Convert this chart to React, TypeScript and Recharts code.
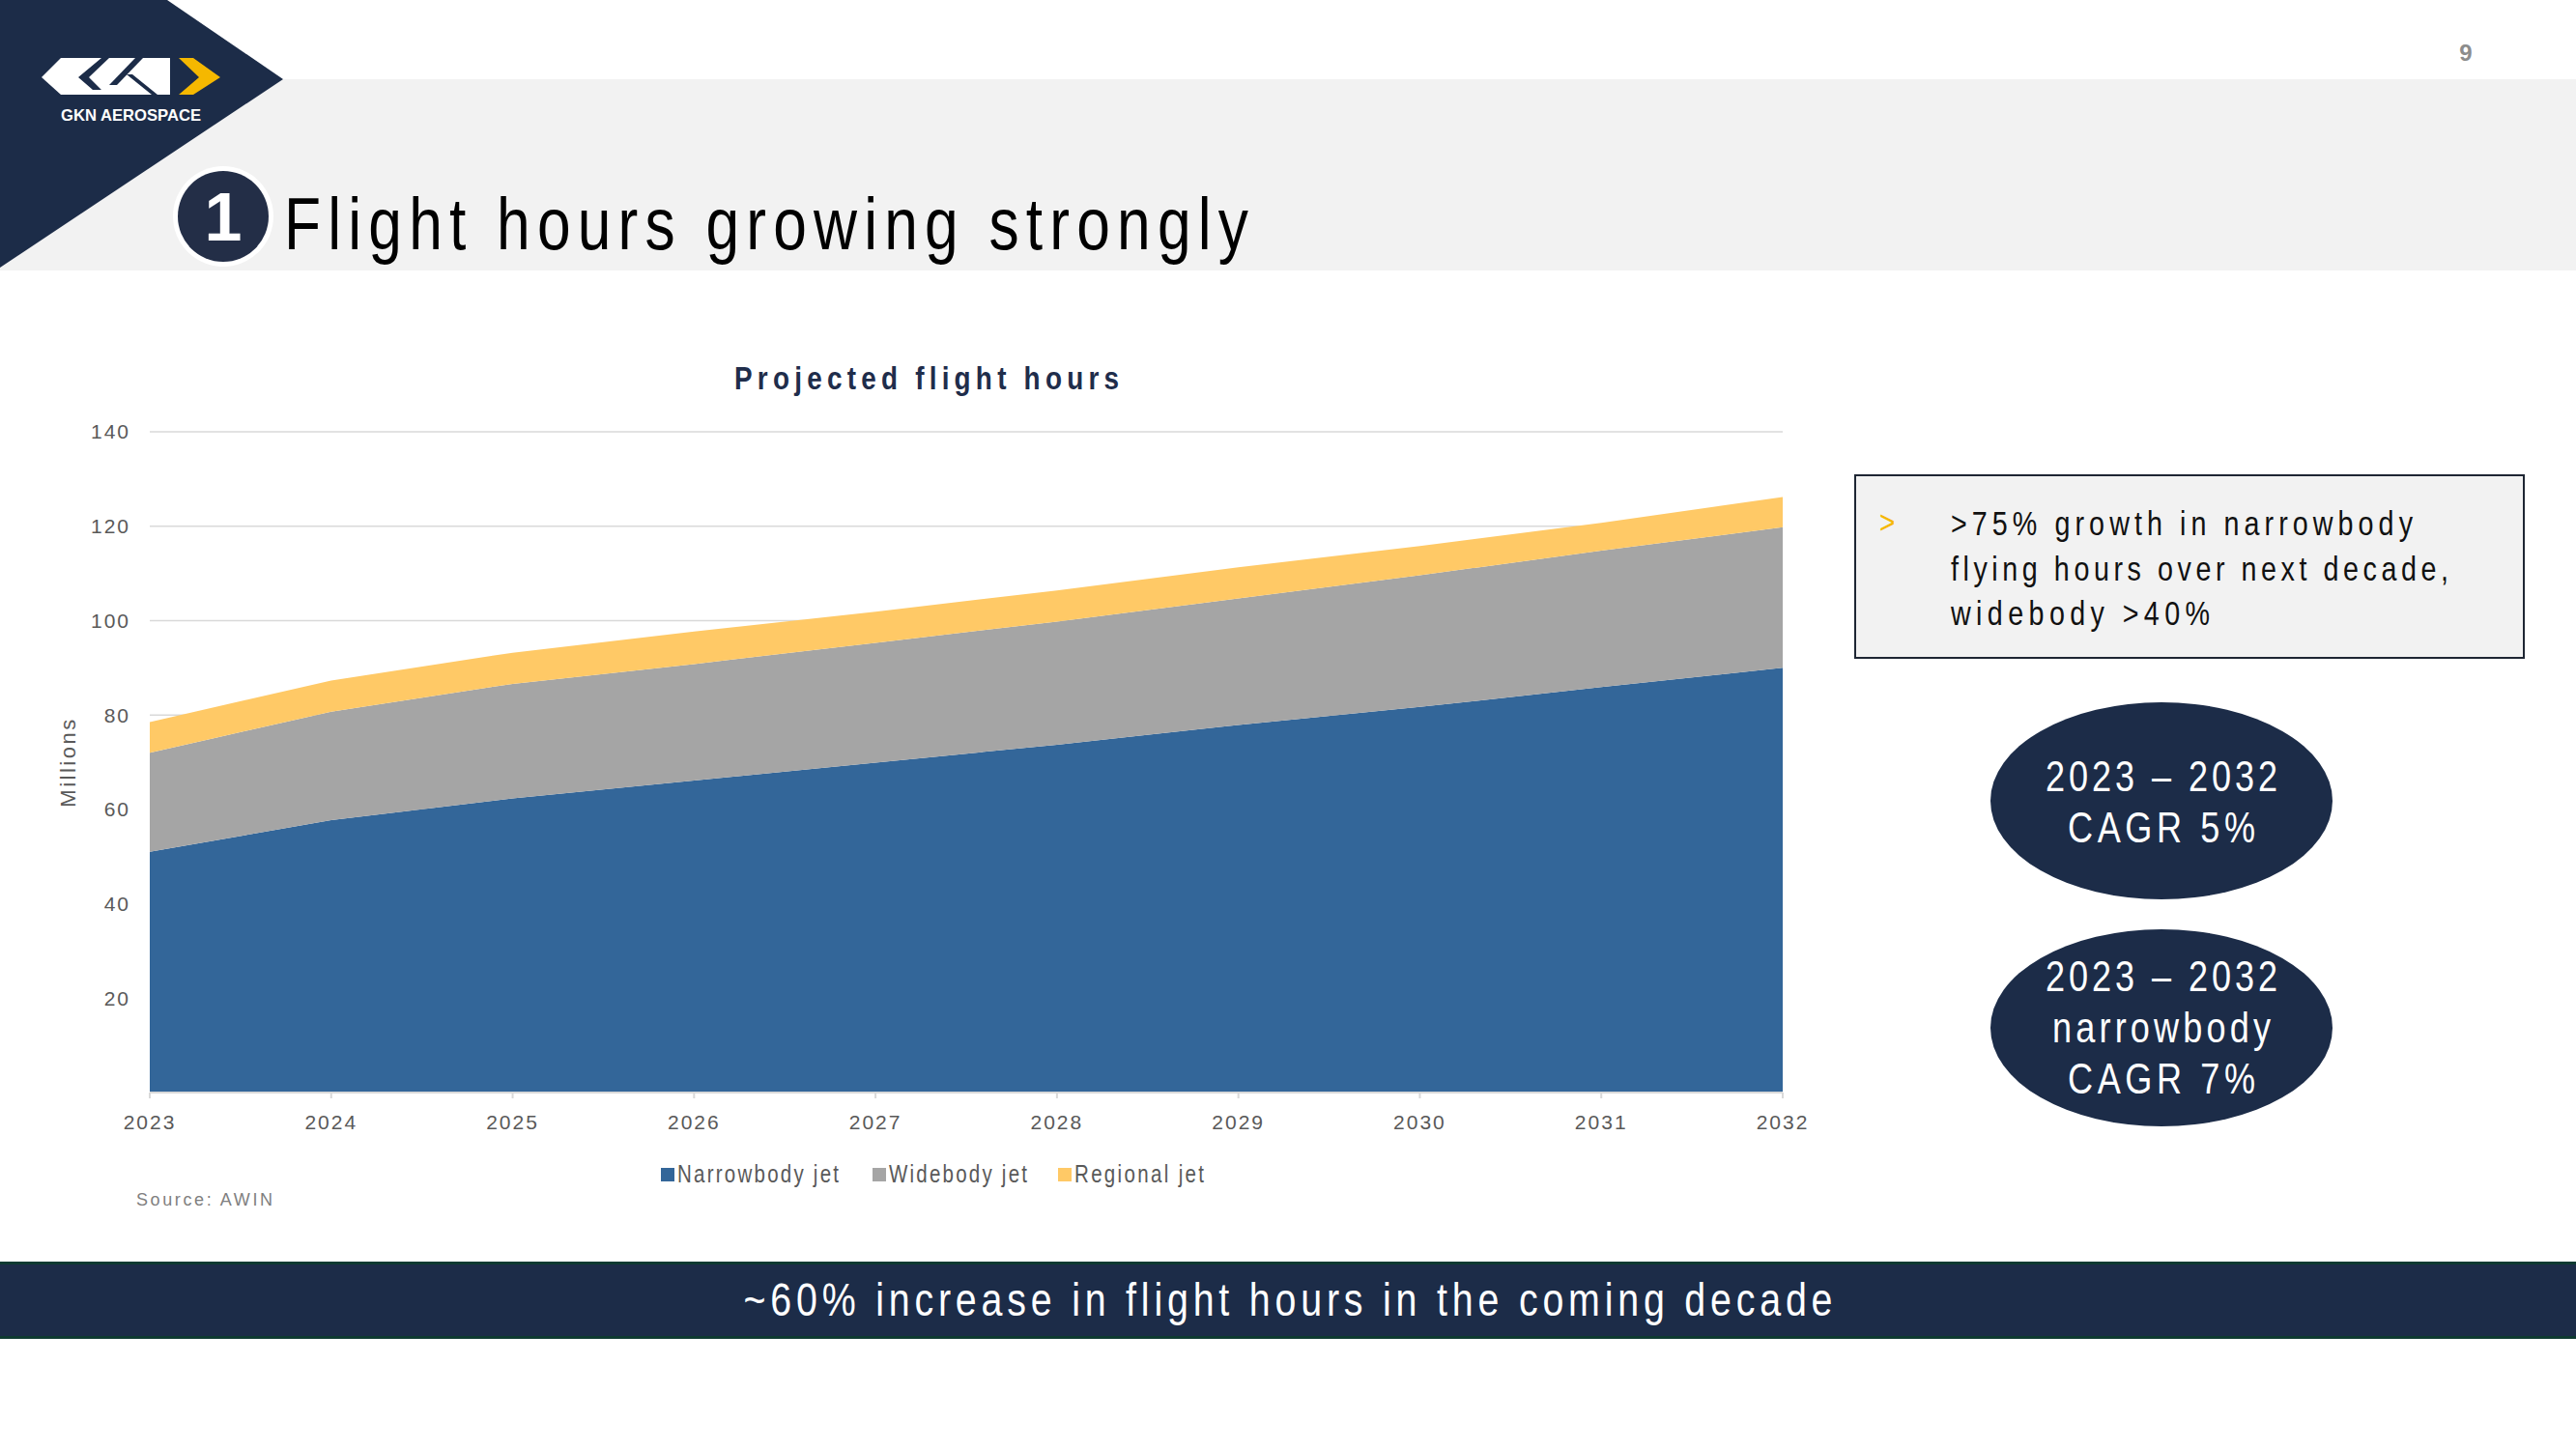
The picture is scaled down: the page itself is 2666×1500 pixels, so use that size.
import { AreaChart, Area, XAxis, YAxis, CartesianGrid, Legend } from "recharts";

// projected flight hours, millions
const years = ["2023", "2024", "2025", "2026", "2027", "2028", "2029", "2030", "2031", "2032"];
const narrowbody = [51.0, 57.7, 62.3, 66.1, 69.9, 73.7, 77.9, 81.7, 85.9, 90.0];
const widebody = [21.0, 23.0, 24.3, 24.7, 25.4, 26.1, 26.8, 27.9, 28.9, 29.8];
const regional = [6.5, 6.6, 6.6, 6.9, 6.6, 6.6, 6.6, 6.2, 5.9, 6.4];
const yTicks = [20, 40, 60, 80, 100, 120, 140];

const seriesNames = ["Narrowbody jet", "Widebody jet", "Regional jet"];
const seriesColors = ["#336699", "#A5A5A5", "#FFC966"];

const NAVY = "#1C2C48";
const sansFont = '"Liberation Sans", Arial, sans-serif';
const SQUEEZE = 0.82; // no Arial Narrow installed, so squeeze Liberation Sans

const rows = years.map((year, i) => ({
  year,
  narrow: narrowbody[i],
  wide: widebody[i],
  regional: regional[i],
}));

type NTProps = {
  x: number;
  y: number;
  width: number;
  size: number;
  fill: string;
  anchor?: "start" | "middle" | "end";
  bold?: boolean;
  children: string;
};

// condensed text: scaled horizontally, spread to the measured width
function NarrowText({ x, y, width, size, fill, anchor = "start", bold, children }: NTProps) {
  return (
    <text
      transform={`scale(${SQUEEZE} 1)`}
      x={x / SQUEEZE}
      y={y}
      textAnchor={anchor}
      fontSize={size}
      fontWeight={bold ? 700 : 400}
      fill={fill}
      fontFamily={sansFont}
      textLength={width / SQUEEZE}
      lengthAdjust="spacing"
    >
      {children}
    </text>
  );
}

const legendSquares = [0, 219, 411];
const legendTextWidths = [167, 143, 134];

function LegendRow() {
  return (
    <svg width={580} height={34} style={{ display: "block", overflow: "visible" }}>
      {seriesNames.map((name, i) => (
        <g key={name}>
          <rect x={legendSquares[i]} y={11} width={14} height={14} fill={seriesColors[i]} />
          <NarrowText x={legendSquares[i] + 17} y={26} width={legendTextWidths[i]} size={25} fill="#595959">
            {name}
          </NarrowText>
        </g>
      ))}
    </svg>
  );
}

function Slide() {
  return (
    <svg width={2666} height={1500} style={{ position: "absolute", left: 0, top: 0 }}>
      {/* header band + corner */}
      <rect x={0} y={82} width={2666} height={198} fill="#F2F2F2" />
      <polygon points="0,0 173,0 293,82 0,277" fill={NAVY} />
      {/* logo */}
      <polygon points="43,80 63,60 176,60 176,98 63,98" fill="#fff" />
      <polygon points="105,60 113,60 92,80 105,93 96,93 81,80" fill={NAVY} />
      <polygon points="140,60 148,60 121,88 113,88" fill={NAVY} />
      <polygon points="131,77 137,77 163,98 157,98" fill={NAVY} />
      <polygon points="185,60 200,60 228,80 200,98 185,98 206,80" fill="#F5B800" />
      <text x={63} y={125} fontSize={17} fontWeight={700} fill="#fff" fontFamily={sansFont} textLength={145} lengthAdjust="spacingAndGlyphs">
        GKN AEROSPACE
      </text>
      {/* section number */}
      <circle cx={231} cy={224} r={52} fill="#fff" />
      <circle cx={231} cy={224} r={47} fill="#232E47" />
      <text x={231} y={249} textAnchor="middle" fontSize={70} fontWeight={700} fill="#fff" fontFamily={sansFont}>1</text>
      <NarrowText x={294} y={258} width={998} size={76} fill="#000">Flight hours growing strongly</NarrowText>
      <text x={2552} y={63} textAnchor="middle" fontSize={24} fontWeight={700} fill="#8C8C8C" fontFamily={sansFont}>9</text>

      {/* chart title + source */}
      <NarrowText x={959} y={403} width={398} size={34} fill="#1F2D4B" anchor="middle" bold>
        Projected flight hours
      </NarrowText>
      <text x={141} y={1248} fontSize={18} fill="#7F7F7F" fontFamily={sansFont} textLength={141} lengthAdjust="spacing">
        Source: AWIN
      </text>

      {/* callout box */}
      <rect x={1920} y={492} width={692} height={189} fill="#F2F2F2" stroke="#1E2633" strokeWidth={2} />
      <NarrowText x={1945} y={552} width={16} size={34} fill="#F5B800">&gt;</NarrowText>
      <NarrowText x={2019} y={554} width={478} size={35} fill="#111">&gt;75% growth in narrowbody</NarrowText>
      <NarrowText x={2019} y={601} width={515} size={35} fill="#111">flying hours over next decade,</NarrowText>
      <NarrowText x={2019} y={647} width={268} size={35} fill="#111">widebody &gt;40%</NarrowText>

      {/* CAGR ovals */}
      <ellipse cx={2237} cy={829} rx={177} ry={102} fill={NAVY} />
      <ellipse cx={2237} cy={1064} rx={177} ry={102} fill={NAVY} />
      <NarrowText x={2237} y={819} width={240} size={44} fill="#fff" anchor="middle">2023 – 2032</NarrowText>
      <NarrowText x={2237} y={872} width={194} size={44} fill="#fff" anchor="middle">CAGR 5%</NarrowText>
      <NarrowText x={2237} y={1026} width={240} size={44} fill="#fff" anchor="middle">2023 – 2032</NarrowText>
      <NarrowText x={2237} y={1079} width={226} size={44} fill="#fff" anchor="middle">narrowbody</NarrowText>
      <NarrowText x={2237} y={1132} width={194} size={44} fill="#fff" anchor="middle">CAGR 7%</NarrowText>

      {/* bottom banner */}
      <rect x={0} y={1306} width={2666} height={80} fill={NAVY} />
      <rect x={0} y={1306} width={2666} height={3} fill="#0E3A31" />
      <rect x={0} y={1383} width={2666} height={3} fill="#0E3A31" />
      <NarrowText x={1333} y={1362} width={1127} size={48} fill="#fff" anchor="middle">
        ~60% increase in flight hours in the coming decade
      </NarrowText>
    </svg>
  );
}

export default function App() {
  return (
    <div style={{ position: "absolute", left: 0, top: 0, width: 2666, height: 1500, background: "#fff", overflow: "hidden" }}>
      <Slide />
      <div style={{ position: "absolute", left: 0, top: 360 }}>
        <AreaChart width={1880} height={940} data={rows} margin={{ top: 87, right: 35, left: 55, bottom: 68 }}>
          <CartesianGrid vertical={false} stroke="#D9D9D9" strokeWidth={1.5} />
          <XAxis
            dataKey="year"
            interval={0}
            height={67}
            tickSize={6}
            tickMargin={17}
            axisLine={{ stroke: "#D9D9D9", strokeWidth: 2 }}
            tickLine={{ stroke: "#D9D9D9", strokeWidth: 2 }}
            tick={{ fill: "#595959", fontSize: 21, fontFamily: sansFont, letterSpacing: 2 }}
          />
          <YAxis
            width={100}
            domain={[0, 140]}
            ticks={yTicks}
            axisLine={false}
            tickLine={false}
            tickMargin={14}
            tick={{ fill: "#595959", fontSize: 21, fontFamily: sansFont, letterSpacing: 2 }}
            label={{
              value: "Millions",
              angle: -90,
              position: "insideLeft",
              offset: 15,
              style: { fill: "#595959", fontSize: 22, fontFamily: sansFont, letterSpacing: 2.5, textAnchor: "middle" },
            }}
          />
          <Legend verticalAlign="bottom" content={() => <LegendRow />} wrapperStyle={{ left: 684, width: "auto" }} />
          <Area type="linear" dataKey="narrow" name={seriesNames[0]} stackId="fh" stroke="none" fill={seriesColors[0]} fillOpacity={1} isAnimationActive={false} />
          <Area type="linear" dataKey="wide" name={seriesNames[1]} stackId="fh" stroke="none" fill={seriesColors[1]} fillOpacity={1} isAnimationActive={false} />
          <Area type="linear" dataKey="regional" name={seriesNames[2]} stackId="fh" stroke="none" fill={seriesColors[2]} fillOpacity={1} isAnimationActive={false} />
        </AreaChart>
      </div>
    </div>
  );
}
